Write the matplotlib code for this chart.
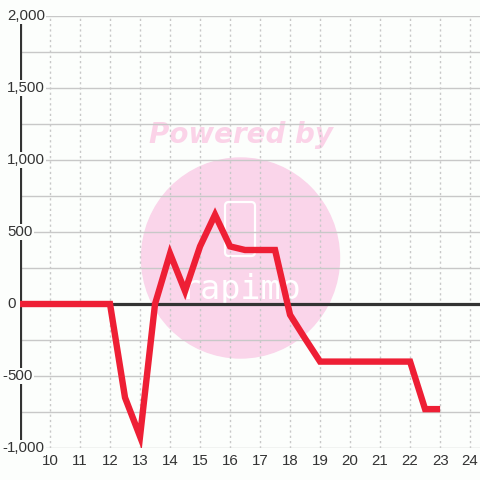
import numpy as np
import matplotlib
matplotlib.use("Agg")
import matplotlib.pyplot as plt
from matplotlib.patches import Ellipse, FancyBboxPatch

# data
x_vals = [9, 9.5, 10, 10.5, 11, 11.5, 12, 12.5, 13, 13.5, 14, 14.5, 15, 15.5,
          16, 16.5, 17, 17.5, 18, 18.5, 19, 19.5, 20, 20.5, 21, 21.5, 22, 22.5, 23]
y_vals = [0, 0, 0, 0, 0, 0, 0, -650, -920, 0, 350, 90, 400, 620,
          400, 375, 375, 375, -75, -240, -400, -400, -400, -400, -400, -400, -400, -730, -730]

x_ticks = list(range(10, 25))
y_grid = [-1000, -750, -500, -250, 0, 250, 500, 750, 1000, 1250, 1500, 1750, 2000]
y_labels = [2000, 1500, 1000, 500, 0, -500, -1000]

def main():
    fig = plt.figure(figsize=(4.8, 4.8), dpi=100, facecolor="#fcfefc")
    ax = fig.add_axes([20 / 480, 32 / 480, 460 / 480, 432 / 480])
    ax.set_facecolor("#fcfefc")
    ax.set_xlim(9, 24.33)
    ax.set_ylim(-1000, 2000)
    for s in ax.spines.values():
        s.set_visible(False)

    # watermark (behind grid)
    ax.add_patch(Ellipse((240.5 / 480, 1 - 258 / 480), 198 / 480, 200 / 480,
                         transform=fig.transFigure, color="#fad5ea", zorder=0.5))
    ax.add_patch(FancyBboxPatch((225 / 480, 1 - 256 / 480), 30 / 480, 54 / 480,
                                boxstyle="round,pad=0,rounding_size=0.008",
                                transform=fig.transFigure, fill=False,
                                edgecolor="white", lw=1.6, zorder=0.6))
    ax.text(240 / 480, 1 - 290 / 480, "rapimo", color="white", fontsize=24,
            family="DejaVu Sans Mono", ha="center", va="center", zorder=0.6,
            transform=fig.transFigure)
    ax.text(241 / 480, 1 - 135 / 480, "Powered by", color="#fbd3e8", fontsize=20,
            family="DejaVu Sans", fontweight="bold", fontstyle="oblique",
            ha="center", va="center", zorder=0.6, transform=fig.transFigure)

    # grid
    for g in y_grid:
        ax.axhline(g, color="#c8c8c8", lw=1, zorder=1)
    for t in x_ticks:
        ax.axvline(t, color="#c8c8c8", lw=1, ls=(0, (1.6, 2.2)), zorder=1)

    ax.axhline(0, color="#333333", lw=2.3, zorder=2)
    ax.axvline(9, color="#333333", lw=2.3, zorder=2)

    ax.plot(x_vals, y_vals, color="#ee1f35", lw=4.6, solid_joinstyle="miter",
            solid_capstyle="butt", zorder=3)

    ax.set_xticks(x_ticks)
    ax.set_xticklabels([str(t) for t in x_ticks])
    ax.set_yticks([])
    ax.tick_params(axis="x", length=0, pad=4, labelsize=10.8, labelcolor="#333333")
    for lab in ax.get_xticklabels():
        lab.set_family("Liberation Sans")

    tr = ax.get_yaxis_transform()
    lx = -13 / 460
    for v in y_labels:
        num = f"{abs(v):,}"
        ax.text(lx, v, num, transform=tr, ha="left", va="center", fontsize=10.8,
                family="Liberation Sans", color="#333333", zorder=5, clip_on=False,
                bbox=dict(facecolor="#fcfefc", edgecolor="none", pad=1.0))
        if v < 0:
            ax.text(lx, v, "-", transform=tr, ha="right", va="center", fontsize=10.8,
                    family="Liberation Sans", color="#333333", zorder=5, clip_on=False)

    fig.savefig("out.png", dpi=100, facecolor=fig.get_facecolor())

if __name__ == "__main__":
    main()
